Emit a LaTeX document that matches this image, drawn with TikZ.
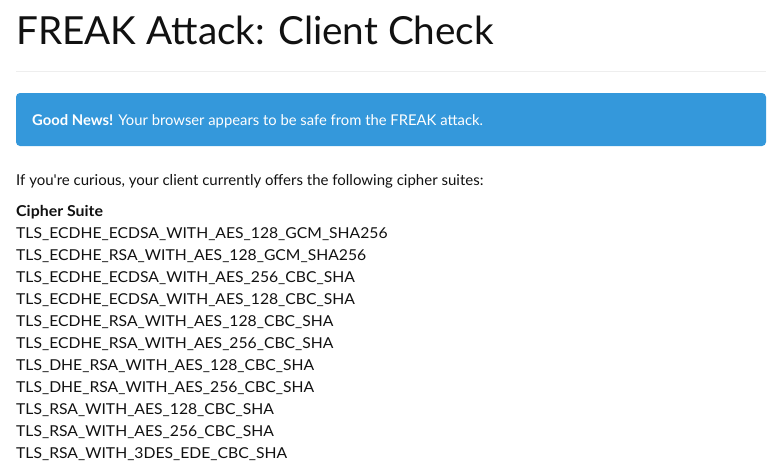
\documentclass[tikz,border=0pt]{standalone}
\usepackage{fontspec}
\setmainfont{Lato}
\newfontfamily\plainfont{Lato}[Ligatures=TeXOff]
\newfontfamily\cipherfont[FakeStretch=1.047]{Lato}
\newfontfamily\headfont[FakeStretch=1.06,UprightFont=* Bold]{Lato}
\definecolor{alertblue}{HTML}{3498DB}
\definecolor{rulegray}{HTML}{EEEEEE}
\definecolor{textblack}{HTML}{111111}
\begin{document}
\begin{tikzpicture}[x=1pt,y=-1pt,
  txt/.style={inner sep=0pt,anchor=base west,text=textblack},
  body/.style={txt,font=\plainfont\fontsize{15}{18}\selectfont},
  cipher/.style={txt,font=\cipherfont\fontsize{15}{18}\selectfont}]
\useasboundingbox[fill=white] (0,0) rectangle (776,472);
\node[txt,font=\fontsize{38.7}{44}\selectfont] (title) at (16,44) {FREAK Attack: Client Check};
\draw[rulegray,line width=1pt] (16,71) coordinate (rl) -- (766,71) coordinate (rr);
\fill[alertblue,rounded corners=4pt] (16,93) rectangle (766,146);
\node[txt,text=white,font=\fontsize{14.8}{18}\selectfont] (alert) at (32,125) {\textbf{Good News!} Your browser appears to be safe from the FREAK attack.};
\node[body] (intro) at (16,185) {If you're curious, your client currently offers the following cipher suites:};
\node[txt,font=\headfont\fontsize{15}{18}\selectfont] (head) at (16,216) {Cipher Suite};
\foreach \s [count=\i from 0] in {TLS\_ECDHE\_ECDSA\_WITH\_AES\_128\_GCM\_SHA256,
 TLS\_ECDHE\_RSA\_WITH\_AES\_128\_GCM\_SHA256,
 TLS\_ECDHE\_ECDSA\_WITH\_AES\_256\_CBC\_SHA,
 TLS\_ECDHE\_ECDSA\_WITH\_AES\_128\_CBC\_SHA,
 TLS\_ECDHE\_RSA\_WITH\_AES\_128\_CBC\_SHA,
 TLS\_ECDHE\_RSA\_WITH\_AES\_256\_CBC\_SHA,
 TLS\_DHE\_RSA\_WITH\_AES\_128\_CBC\_SHA,
 TLS\_DHE\_RSA\_WITH\_AES\_256\_CBC\_SHA,
 TLS\_RSA\_WITH\_AES\_128\_CBC\_SHA,
 TLS\_RSA\_WITH\_AES\_256\_CBC\_SHA,
 TLS\_RSA\_WITH\_3DES\_EDE\_CBC\_SHA}
 \node[cipher] (cs\i) at (16,238+22*\i) {\s};
\end{tikzpicture}
\end{document}
